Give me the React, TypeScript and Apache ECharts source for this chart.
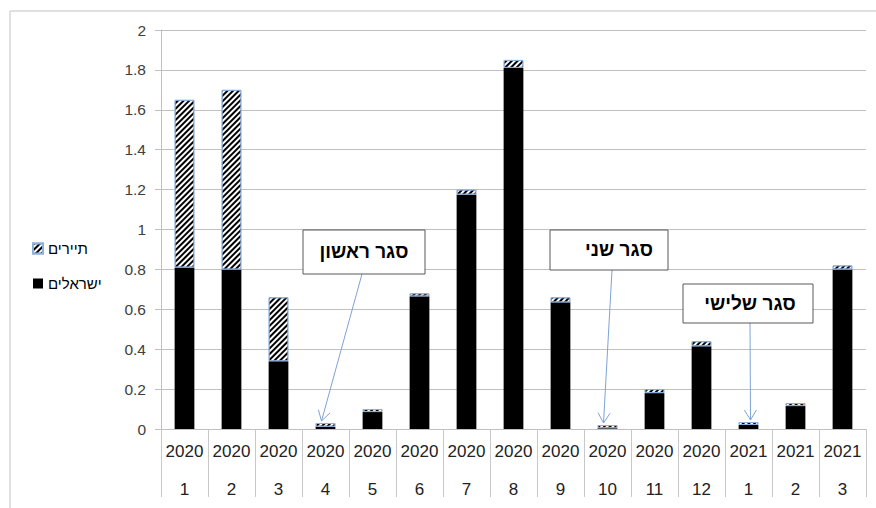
import React, { useEffect, useRef } from "react";
import * as echarts from "echarts";

const years = ["2020","2020","2020","2020","2020","2020","2020","2020","2020","2020","2020","2020","2021","2021","2021"];
const months = ["1","2","3","4","5","6","7","8","9","10","11","12","1","2","3"];
const israelis = [0.81, 0.80, 0.34, 0.012, 0.085, 0.665, 1.175, 1.81, 0.635, 0.004, 0.18, 0.415, 0.02, 0.115, 0.80];
const tourists = [0.84, 0.90, 0.32, 0.018, 0.015, 0.015, 0.025, 0.04, 0.025, 0.016, 0.02, 0.025, 0.015, 0.015, 0.02];
const seriesNames = ["ישראלים", "תיירים"];
const yTicks = { min: 0, max: 2, interval: 0.2 };

const callouts = [
  { text: "סגר ראשון", cat: 3, box: [303, 230, 122, 44], textX: 364, textY: 251, from: [362, 274], tipDx: -4 },
  { text: "סגר שני", cat: 9, box: [550, 230, 118, 40], textX: 619, textY: 249, from: [612, 270], tipDx: -4 },
  { text: "סגר שלישי", cat: 12, box: [683, 284, 130, 39], textX: 750, textY: 303, from: [750, 323], tipDx: 2 },
];

const FONT = "'Liberation Sans', 'DejaVu Sans', Arial, sans-serif";

export default function App() {
  const ref = useRef<HTMLDivElement>(null);
  useEffect(() => {
    if (!ref.current) return;
    const chart = echarts.init(ref.current, null, { renderer: "svg" });
    const cats = years.map((y, i) => `${y}\n${months[i]}`);
    chart.setOption({
      animation: false,
      backgroundColor: "#fff",
      textStyle: { fontFamily: FONT },
      grid: { left: 161, top: 30, right: 10, bottom: 78, containLabel: false },
      legend: {
        orient: "vertical",
        left: 27,
        top: 236,
        itemWidth: 10,
        itemHeight: 10,
        itemGap: 20,
        icon: "rect",
        data: [seriesNames[1], seriesNames[0]],
        textStyle: { fontSize: 15, color: "#000", fontFamily: FONT },
      },
      xAxis: {
        type: "category",
        data: cats,
        axisLine: { show: true, lineStyle: { color: "#bfbfbf", width: 1 } },
        axisTick: { show: true, interval: 0, length: 68, lineStyle: { color: "#c8c8c8" } },
        axisLabel: {
          interval: 0,
          margin: 3,
          color: "#222",
          fontSize: 17,
          lineHeight: 38,
          fontFamily: FONT,
        },
        splitLine: { show: false },
      },
      yAxis: {
        type: "value",
        min: yTicks.min,
        max: yTicks.max,
        interval: yTicks.interval,
        axisLine: { show: true, lineStyle: { color: "#bfbfbf" } },
        axisTick: { show: true, length: 6, lineStyle: { color: "#bfbfbf" } },
        axisLabel: { color: "#404040", fontSize: 15.5, margin: 15, fontFamily: FONT },
        splitLine: { show: true, lineStyle: { color: "#c0c0c0", width: 1 } },
      },
      series: [
        {
          name: seriesNames[0],
          type: "bar",
          stack: "total",
          barWidth: "42%",
          data: israelis,
          itemStyle: { color: "#000" },
        },
        {
          name: seriesNames[1],
          type: "bar",
          stack: "total",
          barWidth: "42%",
          data: tourists,
          itemStyle: {
            color: "#fff",
            borderColor: "#8eb0dd",
            borderWidth: 1,
            decal: {
              symbol: "rect",
              symbolSize: 1,
              color: "#000",
              dashArrayX: [1, 0],
              dashArrayY: [1.8, 2],
              rotation: -Math.PI / 4,
            },
          },
        },
      ],
    });

    const graphics: any[] = [
      { type: "line", shape: { x1: 10, y1: 11, x2: 876, y2: 11 }, style: { stroke: "#d6d6d6", lineWidth: 1.5 }, silent: true },
      { type: "line", shape: { x1: 10, y1: 11, x2: 10, y2: 508 }, style: { stroke: "#d6d6d6", lineWidth: 1.5 }, silent: true },
    ];
    callouts.forEach((c) => {
      const total = israelis[c.cat] + tourists[c.cat];
      const p = chart.convertToPixel({ xAxisIndex: 0, yAxisIndex: 0 }, [c.cat, total]) as number[];
      const ex = p[0] + c.tipDx;
      const ey = p[1] - 2;
      const sx = c.from[0];
      const sy = c.from[1];
      const dx = ex - sx;
      const dy = ey - sy;
      const len = Math.sqrt(dx * dx + dy * dy);
      const ux = dx / len;
      const uy = dy / len;
      const px = -uy;
      const py = ux;
      const h = 10;
      const w = 6;
      graphics.push({
        type: "line",
        shape: { x1: sx, y1: sy, x2: ex, y2: ey },
        style: { stroke: "#7ea3d6", lineWidth: 1 },
        silent: true,
        z: 10,
      });
      graphics.push({
        type: "polyline",
        shape: {
          points: [
            [ex - ux * h + px * w, ey - uy * h + py * w],
            [ex, ey],
            [ex - ux * h - px * w, ey - uy * h - py * w],
          ],
        },
        style: { stroke: "#7ea3d6", lineWidth: 1, fill: null },
        silent: true,
        z: 10,
      });
      graphics.push({
        type: "rect",
        shape: { x: c.box[0], y: c.box[1], width: c.box[2], height: c.box[3] },
        style: { fill: "#fff", stroke: "#595959", lineWidth: 1 },
        silent: true,
        z: 11,
      });
      graphics.push({
        type: "text",
        x: c.textX,
        y: c.textY,
        style: {
          text: c.text,
          fill: "#000",
          font: `bold 19px ${FONT}`,
          textAlign: "center",
          textVerticalAlign: "middle",
        },
        silent: true,
        z: 12,
      });
    });
    chart.setOption({ graphic: graphics });

    return () => chart.dispose();
  }, []);
  return <div ref={ref} style={{ position: "fixed", left: 0, top: 0, width: 876, height: 508 }} />;
}
